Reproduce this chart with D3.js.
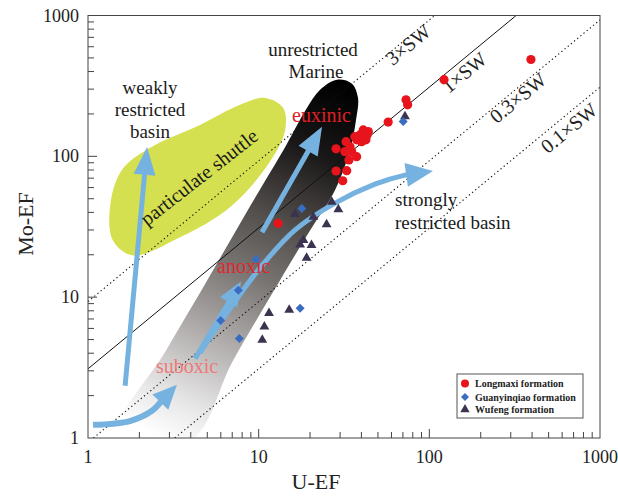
<!DOCTYPE html>
<html><head><meta charset="utf-8">
<script src="https://cdn.jsdelivr.net/npm/d3@7"></script>
<style>body{margin:0;background:#fff}svg{display:block}text{font-family:"Liberation Serif","Times New Roman",serif}</style>
</head><body>
<svg id="chart" width="618" height="497"></svg>
<script>
// ---------- data ----------
const longmaxiU  = [394,122,73,74.6,57.4,43.9,41,39.2,36.6,42.5,40.1,37.5,43.2,32.5,28.4,34.3,32,35.1,37.5,33.8,28.4,32.8,31.1,13.0];
const longmaxiMo = [487,350,252,232,175,150,154,142,138,131,127,131,142,127,113,117,108,108,99.5,94.3,78.7,79.1,67.1,33.4];
const guanyinqiaoU  = [70.3,17.9,9.65,7.6,5.99,7.7,17.5];
const guanyinqiaoMo = [177,42.7,18.6,11.2,6.82,5.08,8.35];
const wufengU  = [72,16.3,20.9,26.8,29.3,25.0,18.3,17.5,20.4,19.1,11.5,15.1,10.8,10.5];
const wufengMo = [192,38.8,37.2,47.5,42.0,32.8,25.4,23.6,23.4,19.0,7.69,8.13,6.18,4.97];
const seriesNames = ["Longmaxi formation","Guanyinqiao formation","Wufeng formation"];
const majorTicks = [1,10,100,1000];
const tickLabels = ["1","10","100","1000"];
const swMultiples = [3,1,0.3,0.1];
const swLabels = ["3×SW","1×SW","0.3×SW","0.1×SW"];
const swLabelU = [75,160,330,657];
const seawaterEFRatio = 3.1;
// annotation outlines in data space [U-EF, Mo-EF]
const shuttleOutline = [[10.9,260],[13.9,221],[14.3,154],[11.6,91],[6.79,43.5],[3.46,26.6],[1.84,19.8],[1.40,25.3],[1.35,45],[1.58,80],[2.31,115],[4.53,167],[7.78,232]];
const redoxBandOutline = [[1.40,0.95],[2.86,4.17],[4.98,13.1],[8.43,39.5],[14.5,120],[18.9,214],[22.9,297],[28.8,350],[35.2,328],[38.2,260],[37.2,182],[34.3,111],[28.0,57.5],[19.7,28.9],[13.3,13.1],[7.07,3.54],[3.96,0.95]];
const arrowWeakly = [[1.65,2.35],[2.22,116.6]];
const arrowEuxinic = [[10.46,28.9],[23.5,162]];
const arrowAnoxic = [[4.24,3.66],[7.88,12.9]];
const arrowStrongly = [[4.53,4.03],[6.98,8.72],[10.46,16.8],[16.3,29.9],[28.0,46.5],[48.0,63.5],[72.0,73.6],[105,78.6]];
const arrowSuboxic = [[1.07,1.24],[1.76,1.32],[2.37,1.56],[3.32,2.39]];

// ---------- scales ----------
const svg = d3.select("#chart");
const x = d3.scaleLog().domain([1,1000]).range([88,600]);
const y = d3.scaleLog().domain([1,1000]).range([438,15.5]);
const X0=88,X1=600,Y0=15.5,Y1=438;

const defs = svg.append("defs");
defs.append("clipPath").attr("id","plotclip").append("rect")
  .attr("x",X0).attr("y",Y0).attr("width",X1-X0).attr("height",Y1-Y0);
const grad = defs.append("linearGradient").attr("id","redox").attr("gradientUnits","userSpaceOnUse")
  .attr("x1",x(28.8)).attr("y1",y(350)).attr("x2",x(3)).attr("y2",y(0.95));
[[0,"#000"],[0.19,"#191717"],[0.39,"#54504e"],[0.53,"#777371"],[0.72,"#b0adac"],[0.89,"#e6e5e5"],[1,"#fff"]]
  .forEach(s=>grad.append("stop").attr("offset",s[0]).attr("stop-color",s[1]));

const plot = svg.append("g").attr("clip-path","url(#plotclip)");
const areaLine = d3.line().x(d=>x(d[0])).y(d=>y(d[1])).curve(d3.curveCatmullRomClosed.alpha(0.5));

plot.append("path").attr("d",areaLine(shuttleOutline)).attr("fill","#d5e050");
plot.append("path").attr("d",areaLine(redoxBandOutline)).attr("fill","url(#redox)");

// seawater lines
const ang = Math.atan2(y(10)-y(1), x(10)-x(1))*180/Math.PI;
const swOffsets=[7,14,10,15];
swMultiples.forEach((m,i)=>{
  const k=m*seawaterEFRatio;
  const u0=Math.max(1,1/k), u1=Math.min(1000,1000/k);
  plot.append("line").attr("x1",x(u0)).attr("y1",y(u0*k)).attr("x2",x(u1)).attr("y2",y(u1*k))
    .attr("stroke","#111").attr("stroke-width",m===1?1:1.1)
    .attr("stroke-dasharray",m===1?null:"1.3,2.8");
  const cx=x(swLabelU[i]), cy=y(swLabelU[i]*k)+swOffsets[i];
  svg.append("text").attr("x",cx).attr("y",cy).attr("text-anchor","middle").attr("dominant-baseline","central")
    .attr("transform",`rotate(${ang},${cx},${cy})`).attr("font-size",20).attr("fill","#222").text(swLabels[i]);
});

// arrows
const arrowColor="#76b2df";
function arrow(pts,w,L,H){
  const p=pts.map(d=>[x(d[0]),y(d[1])]);
  const tip=p[p.length-1], prev=p[p.length-2];
  const dx=tip[0]-prev[0], dy=tip[1]-prev[1], len=Math.hypot(dx,dy);
  const ux=dx/len, uy=dy/len;
  const base=[tip[0]-L*ux, tip[1]-L*uy];
  const shaft=p.slice(0,-1).concat([[base[0]+ux*2,base[1]+uy*2]]);
  plot.append("path").attr("d",d3.line().curve(d3.curveCatmullRom)(shaft))
    .attr("fill","none").attr("stroke",arrowColor).attr("stroke-width",w).attr("stroke-linecap","butt");
  plot.append("path").attr("d",`M${tip[0]},${tip[1]}L${base[0]-uy*H},${base[1]+ux*H}L${base[0]+uy*H},${base[1]-ux*H}Z`)
    .attr("fill",arrowColor);
}
arrow(arrowWeakly,5,28,11);
arrow(arrowEuxinic,5,28,11);
arrow(arrowStrongly,5,27,12);
arrow(arrowAnoxic,5,24,10);
arrow(arrowSuboxic,6,24,11);

// annotation texts
function txt(s,tx,ty,opt={}){
  return svg.append("text").attr("x",tx).attr("y",ty).attr("font-size",opt.size||19)
    .attr("text-anchor",opt.anchor||"start").attr("fill",opt.fill||"#1a1a1a").text(s);
}
txt("weakly",150,93.5,{anchor:"middle"});
txt("restricted",150,115.5,{anchor:"middle"});
txt("basin",150,137.5,{anchor:"middle"});
txt("unrestricted",313,55.5,{anchor:"middle"});
txt("Marine",316,77.5,{anchor:"middle"});
txt("euxinic",292,122,{fill:"#e01f26",size:20});
txt("anoxic",217,273,{fill:"#e2262e",size:20});
txt("suboxic",156,373,{fill:"#ee7a78",size:20});
txt("strongly",395,206);
txt("restricted basin",395,228.5);
svg.append("text").attr("x",199).attr("y",177).attr("text-anchor","middle").attr("dominant-baseline","central")
  .attr("transform","rotate(-38,199,177)").attr("font-size",20).attr("fill","#1a1a1a").text("particulate shuttle");

// points
const diamond = s=>`M0,${-s}L${s},0L0,${s}L${-s},0Z`;
const tri = d3.symbol().type(d3.symbolTriangle).size(42);
svg.append("g").selectAll("path").data(wufengU.map((u,i)=>[u,wufengMo[i]])).join("path")
  .attr("d",tri).attr("transform",d=>`translate(${x(d[0])},${y(d[1])})`).attr("fill","#3b3350");
svg.append("g").selectAll("path").data(guanyinqiaoU.map((u,i)=>[u,guanyinqiaoMo[i]])).join("path")
  .attr("d",diamond(4.5)).attr("transform",d=>`translate(${x(d[0])},${y(d[1])})`).attr("fill","#3a6cc0");
svg.append("g").selectAll("circle").data(longmaxiU.map((u,i)=>[u,longmaxiMo[i]])).join("circle")
  .attr("cx",d=>x(d[0])).attr("cy",d=>y(d[1])).attr("r",4.6).attr("fill","#e8141c");

// axes / frame
svg.append("rect").attr("x",X0).attr("y",Y0).attr("width",X1-X0).attr("height",Y1-Y0)
  .attr("fill","none").attr("stroke","#444").attr("stroke-width",1);
const allTicks=[];
for(let d=1;d<1000;d*=10) for(let k=1;k<10;k++) allTicks.push(d*k);
allTicks.push(1000);
const ax=svg.append("g").attr("stroke","#444").attr("stroke-width",1);
allTicks.forEach(t=>{
  const major=majorTicks.includes(t);
  const L=major?9:6;
  if(t>1&&t<1000){
    ax.append("line").attr("x1",x(t)).attr("x2",x(t)).attr("y1",Y1).attr("y2",Y1-L);
    ax.append("line").attr("x1",X0).attr("x2",X0+L).attr("y1",y(t)).attr("y2",y(t));
  }
});
majorTicks.forEach((t,i)=>{
  svg.append("text").attr("x",x(t)).attr("y",463).attr("text-anchor","middle").attr("font-size",18).attr("fill","#222").text(tickLabels[i]);
  svg.append("text").attr("x",79).attr("y",y(t)).attr("text-anchor","end").attr("dominant-baseline","central").attr("font-size",18).attr("fill","#222").text(tickLabels[i]);
});
svg.append("text").attr("x",316).attr("y",489).attr("text-anchor","middle").attr("font-size",22).attr("fill","#222").text("U-EF");
svg.append("text").attr("transform","translate(33,224) rotate(-90)").attr("text-anchor","middle").attr("font-size",22).attr("fill","#222").text("Mo-EF");

// legend
const lg=svg.append("g");
lg.append("rect").attr("x",457).attr("y",374).attr("width",126).attr("height",44).attr("fill","#fff").attr("stroke","#555").attr("stroke-width",1);
const ly=[383.5,397,409.5];
lg.append("circle").attr("cx",465).attr("cy",ly[0]).attr("r",4).attr("fill","#e8141c");
lg.append("path").attr("d",diamond(4)).attr("transform",`translate(465,${ly[1]})`).attr("fill","#3a6cc0");
lg.append("path").attr("d",d3.symbol().type(d3.symbolTriangle).size(38)).attr("transform",`translate(465,${ly[2]})`).attr("fill","#3b3350");
seriesNames.forEach((n,i)=>lg.append("text").attr("x",475).attr("y",ly[i]).attr("dominant-baseline","central")
  .attr("font-size",10).attr("font-weight","bold").attr("fill","#222").text(n));
</script>
</body></html>
